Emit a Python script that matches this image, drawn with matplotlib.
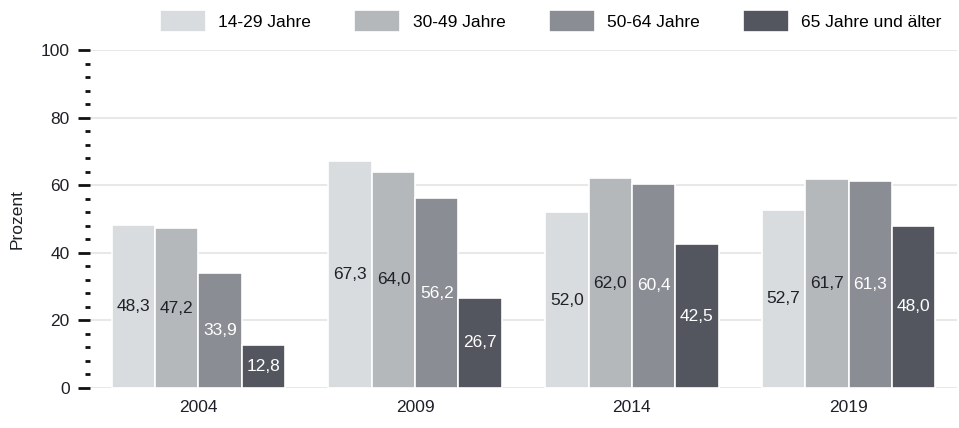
import matplotlib.pyplot as plt
import numpy as np

plt.rcParams['font.family'] = ['Liberation Sans', 'DejaVu Sans']

years = ['2004', '2009', '2014', '2019']
groups = ['14-29 Jahre', '30-49 Jahre', '50-64 Jahre', '65 Jahre und älter']
age_14_29 = [48.3, 67.3, 52.0, 52.7]
age_30_49 = [47.2, 64.0, 62.0, 61.7]
age_50_64 = [33.9, 56.2, 60.4, 61.3]
age_65_plus = [12.8, 26.7, 42.5, 48.0]
values = [age_14_29, age_30_49, age_50_64, age_65_plus]

colors = ['#d9dcdf', '#b5b8bb', '#8a8d94', '#53565e']
label_colors = ['#1f2128', '#1f2128', 'white', 'white']
fs = 12.5

fig = plt.figure(figsize=(9.59, 4.28), dpi=100)
ax = fig.add_axes([90 / 959, 40 / 428, 867 / 959, 338 / 428])

x = np.arange(len(years))
width = 0.2
for i, (name, vals) in enumerate(zip(groups, values)):
    pos = x + (i - 1.5) * width
    bars = ax.bar(pos, vals, width, color=colors[i], edgecolor='white',
                  linewidth=1.2, label=name, zorder=2)
    for b, v in zip(bars, vals):
        ax.text(b.get_x() + b.get_width() / 2, v / 2,
                f'{v:.1f}'.replace('.', ','), ha='center', va='center',
                fontsize=fs, color=label_colors[i], zorder=3)

ax.set_xlim(-0.5, 3.5)
ax.set_ylim(0, 100)
ax.set_xticks(x)
ax.set_xticklabels(years)
ax.set_yticks(np.arange(0, 101, 20))
ax.set_yticks(np.arange(0, 101, 4), minor=True)
ax.yaxis.grid(True, which='major', color='#e8e8e8', linewidth=1.5, zorder=0)
ax.set_axisbelow(True)
for s in ax.spines.values():
    s.set_visible(False)
ax.tick_params(axis='x', length=0, labelsize=fs, pad=9, colors='#1f2128')
ax.tick_params(axis='y', which='major', length=8.5, width=2, pad=6,
               labelsize=fs, color='#111111', labelcolor='#1f2128')
ax.tick_params(axis='y', which='minor', length=3.6, width=2, pad=0.7,
               color='#111111')
ax.set_ylabel('Prozent', fontsize=fs, color='#1f2128', labelpad=12)

fig.legend(loc='upper right', bbox_to_anchor=(952 / 959, 1.0), ncol=4,
           frameon=False, fontsize=fs, handlelength=2.65, handleheight=1.5,
           handletextpad=0.7, columnspacing=2.5, borderaxespad=0.2)

fig.savefig('out.png', dpi=100)
